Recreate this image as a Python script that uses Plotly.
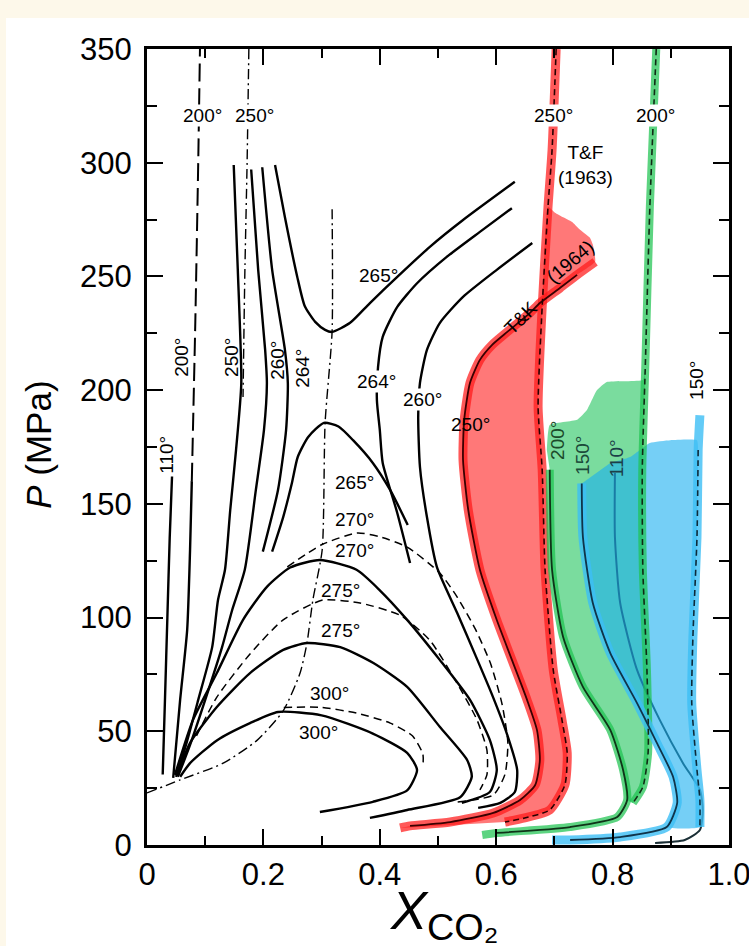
import plotly.graph_objects as go

# ---------------- data (X_CO2, P in MPa) ----------------
# left (H2O-rich) branches
l110_x = [0.027, 0.031, 0.035, 0.039, 0.043]
l110_p = [31, 65, 100, 135, 162]
l200s_x = [0.045, 0.057, 0.069, 0.074, 0.077]
l200s_p = [29.5, 64, 94.5, 130, 160]
l200d_x = [0.077, 0.083, 0.088, 0.091]
l200d_p = [160, 230, 300, 350]
l250dd_x = [0.175, 0.172, 0.168, 0.165]
l250dd_p = [350, 300, 250, 197]
l250_x = [0.050, 0.067, 0.088, 0.112, 0.122, 0.134, 0.143, 0.153, 0.162, 0.156, 0.149]
l250_p = [30, 44, 63.8, 87, 107.7, 121, 147.3, 173.7, 203, 253, 299]
l260_x = [0.053, 0.074, 0.100, 0.129, 0.146, 0.168, 0.187, 0.201, 0.206, 0.203, 0.191, 0.179]
l260_p = [30, 44, 63.8, 87, 103, 121, 156, 182.5, 203, 217.7, 253, 297]
l264_x = [0.199, 0.225, 0.239, 0.242, 0.237, 0.215, 0.198]
l264_p = [129, 156, 182.5, 203, 217.7, 253, 298]
# 265 upper U
u265_x = [0.220, 0.237, 0.258, 0.271, 0.289, 0.306, 0.318, 0.349, 0.383, 0.430, 0.486, 0.543, 0.632]
u265_p = [299, 276, 250, 237, 230, 226.5, 225.6, 229.6, 238.3, 249.8, 263, 274.8, 291.6]
# right branches 264 / 260
r264_x = [0.627, 0.572, 0.515, 0.464, 0.430, 0.405, 0.397, 0.395, 0.400, 0.405, 0.430, 0.452]
r264_p = [280, 269.6, 258.6, 247, 236.6, 223.4, 210.2, 195.7, 182.5, 168, 146, 124]
r260_x = [0.662, 0.601, 0.543, 0.503, 0.481, 0.469, 0.466, 0.469, 0.481, 0.498, 0.533, 0.564,
          0.593, 0.619, 0.636, 0.632, 0.607, 0.569]
r260_p = [264.7, 252.9, 241, 229.5, 217.7, 203.2, 188.2, 166.2, 144.2, 122.3, 102, 83.6,
          66, 48.4, 33, 23.3, 18.5, 16.3]
# domes
d265_x = [0.215, 0.234, 0.249, 0.259, 0.277, 0.304, 0.329, 0.354, 0.388, 0.418, 0.448]
d265_p = [129, 144.2, 159.2, 170.6, 179.4, 185.6, 184, 178, 168, 156, 140.7]
d270s_x = [0.048, 0.079, 0.120, 0.165, 0.206, 0.246, 0.297, 0.360, 0.400, 0.447, 0.503, 0.555,
           0.589, 0.601, 0.589, 0.541]
d270s_p = [30.8, 55, 75.6, 99, 113.5, 122, 125.3, 121, 112, 99, 81.4, 63.8, 46.2, 33, 23.3, 18.5]
d270d_x = [0.241, 0.300, 0.361, 0.400, 0.447, 0.503, 0.533, 0.564, 0.590, 0.610, 0.620, 0.615,
           0.595, 0.533]
d270d_p = [122.3, 132, 137.2, 135.5, 131, 119.6, 109, 95, 80, 62, 45, 31, 22, 18.9]
d275s_x = [0.053, 0.074, 0.120, 0.177, 0.234, 0.275, 0.332, 0.389, 0.447, 0.503, 0.550, 0.558,
           0.538, 0.447, 0.383]
d275s_p = [31.7, 44.9, 60.7, 75.6, 85.8, 88.8, 87, 80, 69.5, 52, 37.4, 30, 21, 15.4, 11.9]
d275d_x = [0.085, 0.120, 0.177, 0.234, 0.302, 0.366, 0.435, 0.486, 0.533, 0.567, 0.584, 0.584, 0.572]
d275d_p = [48, 65, 84, 99, 107.7, 106.4, 101, 90, 71, 55, 41.8, 30.8, 24.2]
d300s_x = [0.057, 0.074, 0.120, 0.177, 0.225, 0.300, 0.388, 0.447, 0.464, 0.447, 0.388, 0.297]
d300s_p = [30, 36, 46, 53.6, 58.5, 57, 49, 40.5, 33, 24, 19, 14.5]
d300d_x = [0.235, 0.300, 0.360, 0.418, 0.456, 0.474, 0.474]
d300d_p = [60.5, 60.5, 58, 53.6, 48, 40, 34]
crit_x = [0.0, 0.057, 0.131, 0.189, 0.234, 0.263, 0.275, 0.285, 0.301, 0.306, 0.318, 0.318]
crit_p = [22.9, 28.6, 36, 46, 59, 75.6, 89, 107.7, 129.7, 185.6, 225.6, 281.4]

# CO2-rich side, 250 deg (red)
tk250_x = [0.435, 0.452, 0.521, 0.595, 0.641, 0.667, 0.675, 0.670, 0.653, 0.627, 0.601, 0.572,
           0.552, 0.543, 0.545, 0.555, 0.572, 0.593, 0.619, 0.658, 0.675, 0.710, 0.739, 0.770]
tk250_p = [7.5, 8.4, 10.1, 14.1, 19.8, 26.4, 37.4, 50.6, 63.8, 81.4, 98.9, 121,
           147.3, 169.3, 186.9, 203.2, 213.3, 219.9, 225.6, 234, 238.3, 245, 250.7, 256.4]
tf250_x = [0.703, 0.696, 0.689, 0.679, 0.672, 0.679, 0.684, 0.698, 0.713, 0.722, 0.718, 0.692,
           0.649, 0.615]
tf250_p = [350, 305.6, 280.6, 236.6, 192.6, 165, 121, 77, 55, 40.5, 26.4, 15.4, 11.9, 10.1]
blob250_x = [0.766, 0.761, 0.744, 0.730, 0.715, 0.701]
blob250_p = [264, 267, 270.5, 274, 276, 278]
# 200 deg (green)
tf200_x = [0.875, 0.864, 0.856, 0.851, 0.852, 0.859, 0.861, 0.852, 0.835]
tf200_p = [350, 280.6, 208.9, 165, 121, 77, 40.5, 25.5, 18.5]
tk200_x = [0.692, 0.696, 0.715, 0.749, 0.796, 0.818, 0.825, 0.808, 0.727, 0.601, 0.576]
tk200_p = [165, 121, 91.5, 69.5, 50.6, 33, 19.8, 12.3, 7.9, 5.3, 4.4]
top200_x = [0.852, 0.790, 0.773, 0.756, 0.739, 0.692, 0.687]
top200_p = [204.5, 203.6, 200, 191.3, 187, 184.7, 173.7]
# 150 deg (blue)
tf150_x = [0.950, 0.947, 0.945, 0.938, 0.936, 0.945, 0.950, 0.950]
tf150_p = [189, 173.7, 135.4, 91.5, 62.4, 33, 19.8, 7.9]
tk150_x = [0.747, 0.749, 0.766, 0.796, 0.842, 0.876, 0.904, 0.911, 0.893, 0.813, 0.727, 0.696]
tk150_p = [159, 135.4, 106.4, 84.4, 62.4, 44.9, 29.9, 18.5, 7.9, 3.5, 2.2, 2.2]
top150_x = [0.945, 0.899, 0.864, 0.830, 0.796]
top150_p = [178, 178, 176.8, 170.6, 168]
tk110_x = [0.804, 0.804, 0.813, 0.842, 0.881, 0.921, 0.950, 0.955, 0.950, 0.924, 0.873]
tk110_p = [163.6, 135.4, 106.4, 77, 55, 36, 24.2, 15.4, 6.6, 2.2, 0.9]

x_ticks = [0, 0.2, 0.4, 0.6, 0.8, 1.0]
x_ticktext = ["0", "0.2", "0.4", "0.6", "0.8", "1.0"]
x_minor = [0.1, 0.3, 0.5, 0.7, 0.9]
y_ticks = [0, 50, 100, 150, 200, 250, 300, 350]
y_minor = [25, 75, 125, 175, 225, 275, 325]

# labels: (text, x, P, angle, white background)
labels = [
    ("200°", 0.096, 320.6, 0, True), ("250°", 0.184, 320.6, 0, True),
    ("250°", 0.699, 320.6, 0, True), ("200°", 0.873, 320.6, 0, True),
    ("265°", 0.397, 250.2, 0, False), ("264°", 0.395, 204, 0, True),
    ("260°", 0.474, 195.7, 0, True), ("250°", 0.555, 184.7, 0, False),
    ("265°", 0.357, 159.6, 0, False), ("270°", 0.357, 143, 0, False),
    ("270°", 0.357, 129.7, 0, False), ("275°", 0.332, 111.7, 0, False),
    ("275°", 0.332, 94.1, 0, False), ("300°", 0.314, 66.8, 0, False),
    ("300°", 0.294, 49.3, 0, False),
    ("110°", 0.034, 171.5, -90, False), ("200°", 0.060, 214.6, -90, False),
    ("250°", 0.146, 214.6, -90, False), ("260°", 0.225, 213.3, -90, False),
    ("264°", 0.268, 209.8, -90, False), ("150°", 0.945, 204.5, -90, False),
]
green_labels = [("200°", 0.704, 178, "#1c4a2a"), ("150°", 0.749, 171.5, "#1c4a3a"),
                ("110°", 0.808, 170.2, "#1c3f48")]

FONT = "Liberation Sans, Arial, Helvetica, sans-serif"
fig = go.Figure()


def line(x, y, color="black", width=2.4, dash="solid", smooth=0.6):
    fig.add_trace(go.Scatter(x=x, y=y, mode="lines", hoverinfo="skip", showlegend=False,
                             line=dict(color=color, width=width, dash=dash,
                                       shape="spline", smoothing=smooth)))


def fill(x, y, color):
    fig.add_trace(go.Scatter(x=x, y=y, mode="lines", fill="toself", fillcolor=color,
                             hoverinfo="skip", showlegend=False,
                             line=dict(width=0, color=color, shape="spline", smoothing=0.4)))


# fills
fill(tk250_x + blob250_x + tf250_x[2:], tk250_p + blob250_p + tf250_p[2:], "rgba(255,0,0,0.53)")
fill(tk200_x[:7] + tf200_x[::-1][:-2] + top200_x,
     tk200_p[:7] + tf200_p[::-1][:-2] + top200_p, "rgba(34,197,94,0.6)")
line(tk110_x, tk110_p, color="#1b2f36", width=2.0)
fill(tk150_x[:9] + tf150_x[::-1][:-1] + top150_x,
     tk150_p[:9] + tf150_p[::-1][:-1] + top150_p, "rgba(25,175,240,0.6)")

# coloured strokes
RED = "rgba(255,25,25,0.72)"
GREEN = "rgba(30,195,80,0.72)"
BLUE = "rgba(60,190,245,0.8)"
line(tk250_x, tk250_p, RED, 9)
line(tf250_x, tf250_p, RED, 9)
line(tf200_x, tf200_p, GREEN, 8)
line(tk200_x, tk200_p, GREEN, 8)
line(tf150_x, tf150_p, BLUE, 9)
line(tk150_x, tk150_p, BLUE, 9)

# black lines on the coloured side
line(tk250_x[1:-1], tk250_p[1:-1], "#3a0000", 1.8)
line(tf250_x, tf250_p, "#2a0000", 1.6, "6px,4px")
line(tf200_x, tf200_p, "#0f2a14", 1.6, "6px,4px")
line(tk200_x[:-1], tk200_p[:-1], "#0f3318", 1.8)
line(tf150_x[1:], tf150_p[1:], "#0d2a3a", 1.6, "6px,4px")
line(tk150_x[:-1], tk150_p[:-1], "#10344a", 1.8)

# black isotherms
line(l110_x, l110_p)
line(l200s_x, l200s_p)
line(l200d_x, l200d_p, width=2.0, dash="18px,7px")
line(l250dd_x, l250dd_p, width=1.4, dash="10px,4px,2px,4px")
line(l250_x, l250_p)
line(l260_x, l260_p)
line(l264_x, l264_p)
line(u265_x, u265_p)
line(r264_x, r264_p)
line(r260_x, r260_p)
line(d265_x, d265_p)
line(d270s_x, d270s_p)
line(d270d_x, d270d_p, width=1.5, dash="8px,5px")
line(d275s_x, d275s_p)
line(d275d_x, d275d_p, width=1.5, dash="8px,5px")
line(d300s_x, d300s_p)
line(d300d_x, d300d_p, width=1.5, dash="8px,5px")
line(crit_x, crit_p, width=1.4, dash="10px,4px,2px,4px")

ann = []
for t, x, y, a, bg in labels:
    ann.append(dict(x=x, y=y, text=t, showarrow=False, textangle=a,
                    font=dict(size=19, color="black", family=FONT),
                    bgcolor="white" if bg else "rgba(0,0,0,0)", borderpad=0))
for t, x, y, c in green_labels:
    ann.append(dict(x=x, y=y, text=t, showarrow=False, textangle=-90,
                    font=dict(size=19, color=c, family=FONT)))
ann += [
    dict(x=0.753, y=299, text="T&F<br>(1963)", showarrow=False,
         font=dict(size=19, color="black", family=FONT)),
    dict(x=0.641, y=231.7, text="T&K", showarrow=False, textangle=-45,
         font=dict(size=19, color="black", family=FONT)),
    dict(x=0.728, y=256.4, text="(1964)", showarrow=False, textangle=-40,
         font=dict(size=19, color="black", family=FONT)),
    dict(x=0.51, xref="paper", xanchor="center", y=-0.042, yref="paper", yanchor="top",
         text="<i>X</i><sub>CO₂</sub>",
         showarrow=False, font=dict(size=54, color="black", family=FONT)),
    dict(x=-0.187, xref="paper", xanchor="center", y=0.503, yref="paper", yanchor="middle",
         text="<i>P</i> (MPa)",
         showarrow=False, textangle=-90, font=dict(size=35, color="black", family=FONT)),
]

fig.update_layout(
    width=749, height=946,
    margin=dict(l=147, r=20, t=49, b=101),
    paper_bgcolor="#fdf8ea", plot_bgcolor="white",
    font=dict(family=FONT, color="black"),
    annotations=ann,
    shapes=[dict(type="rect", xref="paper", yref="paper", x0=-0.2423, x1=1.06, y0=-0.14, y1=1.039,
                 fillcolor="white", line=dict(width=0), layer="below")],
)
axis_common = dict(showline=True, linecolor="black", linewidth=3, mirror="ticks",
                   ticks="inside", ticklen=16, tickwidth=2, tickcolor="black",
                   showgrid=False, zeroline=False, automargin=False,
                   tickfont=dict(size=31, family=FONT))
fig.update_xaxes(range=[0, 1], tickvals=x_ticks, ticktext=x_ticktext,
                 ticklabeloverflow="allow",
                 minor=dict(tickvals=x_minor, ticks="inside", ticklen=9, tickwidth=2,
                            tickcolor="black"), **axis_common)
fig.update_yaxes(range=[0, 350], tickvals=y_ticks, ticklabelstandoff=6,
                 minor=dict(tickvals=y_minor, ticks="inside", ticklen=10, tickwidth=2,
                            tickcolor="black"), **axis_common)

fig.write_html("out.html", config={"displayModeBar": False},
               post_script="document.body.style.margin='0';"
                           "document.body.style.background='#fdf8ea';")
